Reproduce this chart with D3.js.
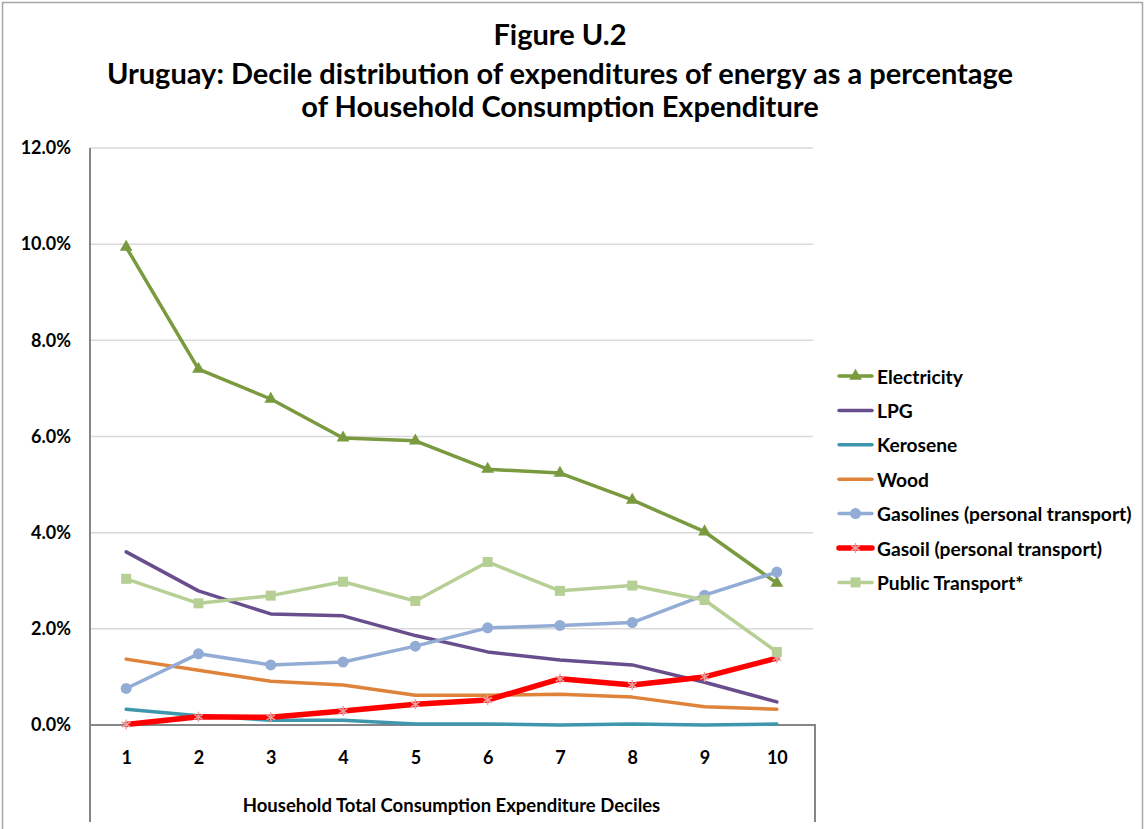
<!DOCTYPE html>
<html><head><meta charset="utf-8">
<script src="https://cdn.jsdelivr.net/npm/d3@7"></script>
<style>
html,body{margin:0;padding:0;background:#fff;}
svg{display:block;}
text{font-family:Lato,"Open Sans",sans-serif;font-weight:bold;fill:#000;}
</style></head>
<body><svg id="c" width="1145" height="829"></svg>
<script>
const deciles = [1,2,3,4,5,6,7,8,9,10];
const yTicks = [0,2,4,6,8,10,12];
const titleLines = ["Figure U.2","Uruguay: Decile distribution of expenditures of energy as a percentage","of Household Consumption Expenditure"];
const xTitle = "Household Total Consumption Expenditure Deciles";
const seriesNames = ["Electricity","LPG","Kerosene","Wood","Gasolines (personal transport)","Gasoil (personal transport)","Public Transport*"];
const electricity = [9.94,7.40,6.78,5.97,5.91,5.32,5.24,4.68,4.02,2.95];
const lpg = [3.60,2.79,2.31,2.27,1.86,1.52,1.35,1.25,0.89,0.48];
const kerosene = [0.33,0.19,0.10,0.10,0.02,0.02,0.00,0.02,0.00,0.02];
const wood = [1.37,1.14,0.91,0.83,0.62,0.62,0.64,0.58,0.38,0.33];
const gasolines = [0.76,1.48,1.25,1.31,1.64,2.02,2.07,2.13,2.70,3.18];
const gasoil = [0.01,0.17,0.16,0.29,0.43,0.52,0.96,0.83,1.00,1.39];
const publicTransport = [3.04,2.53,2.69,2.98,2.58,3.39,2.79,2.90,2.60,1.52];
const seriesValues = [electricity,lpg,kerosene,wood,gasolines,gasoil,publicTransport];

const styles = [
 {color:"#799A3E", width:3.5, marker:"triangle", mfill:"#799A3E"},
 {color:"#684E8D", width:3.5, marker:null},
 {color:"#3F97AD", width:3.5, marker:null},
 {color:"#DF833A", width:3.5, marker:null},
 {color:"#93ACD5", width:3.5, marker:"circle", mfill:"#93ACD5"},
 {color:"#FF0000", width:5.5, marker:"star", mfill:"#E9A0A0"},
 {color:"#B6CF94", width:3.5, marker:"square", mfill:"#B6CF94"}
];

const svg = d3.select("#c");
// outer border
svg.append("rect").attr("x",2.5).attr("y",2.5).attr("width",1140).attr("height",840)
  .attr("fill","none").attr("stroke","#A6A6A6").attr("stroke-width",1.5);

// title
const tY = [33,72,105];
titleLines.forEach((t,i)=>{
  svg.append("text").attr("x",560).attr("y",tY[i]).attr("text-anchor","middle")
    .attr("dominant-baseline","central").style("font-size","29px").text(t);
});

const pL=90, pR=813, pT=148, pB=725;
const x = d3.scalePoint().domain(deciles).range([pL,pR]).padding(0.5);
const y = d3.scaleLinear().domain([0,12]).range([pB,pT]);

// gridlines
svg.append("g").selectAll("line").data(yTicks.filter(d=>d>0)).join("line")
  .attr("x1",pL).attr("x2",pR).attr("y1",d=>y(d)).attr("y2",d=>y(d))
  .attr("stroke","#D9D9D9").attr("stroke-width",1.5);

// y axis
const yAxis = svg.append("g").attr("transform",`translate(${pL},0)`)
  .call(d3.axisLeft(y).tickValues(yTicks).tickFormat(d=>d.toFixed(1)+"%").tickSize(0).tickPadding(19));
yAxis.select(".domain").remove();
yAxis.selectAll("text").style("font-size","18px");
svg.append("line").attr("x1",pL).attr("x2",pL).attr("y1",pT).attr("y2",822)
  .attr("stroke","#868686").attr("stroke-width",2);

// x axis
const xAxis = svg.append("g").attr("transform",`translate(0,${pB})`)
  .call(d3.axisBottom(x).tickSize(0).tickPadding(26));
xAxis.select(".domain").remove();
xAxis.selectAll("text").style("font-size","18px");
svg.append("path").attr("d",`M${pL},${pB}H815V822`).attr("fill","none")
  .attr("stroke","#868686").attr("stroke-width",2);

svg.append("text").attr("x",(pL+pR)/2).attr("y",805).attr("text-anchor","middle")
  .attr("dominant-baseline","central").style("font-size","18.5px").text(xTitle);

function drawMarker(g, type, cx, cy, st){
  if(!type) return;
  if(type==="triangle"){
    g.append("path").attr("d",d3.symbol(d3.symbolTriangle,70)()).attr("transform",`translate(${cx},${cy})`).attr("fill",st.mfill);
  } else if(type==="circle"){
    g.append("circle").attr("cx",cx).attr("cy",cy).attr("r",5.5).attr("fill",st.mfill);
  } else if(type==="square"){
    g.append("rect").attr("x",cx-5).attr("y",cy-5).attr("width",10).attr("height",10).attr("fill",st.mfill);
  } else if(type==="star"){
    g.append("path").attr("d",d3.symbol(d3.symbolAsterisk,70)()).attr("transform",`translate(${cx},${cy})`)
      .attr("fill","none").attr("stroke",st.mfill).attr("stroke-width",1.5);
  }
}

const line = d3.line().x((d,i)=>x(deciles[i])).y(d=>y(d));
seriesValues.forEach((vals,si)=>{
  const st = styles[si];
  const g = svg.append("g");
  g.append("path").attr("d",line(vals)).attr("fill","none").attr("stroke",st.color)
    .attr("stroke-width",st.width).attr("stroke-linejoin","round").attr("stroke-linecap","round");
  vals.forEach((v,i)=>drawMarker(g, st.marker, x(deciles[i]), y(v), st));
});

// legend
const lg = svg.append("g");
seriesNames.forEach((n,i)=>{
  const st = styles[i];
  const ly = 376 + i*34.4;
  lg.append("line").attr("x1",839).attr("x2",872).attr("y1",ly).attr("y2",ly)
    .attr("stroke",st.color).attr("stroke-width",st.width).attr("stroke-linecap","round");
  drawMarker(lg, st.marker, 855.5, ly, st);
  lg.append("text").attr("x",877).attr("y",ly).attr("dominant-baseline","central")
    .style("font-size","19.2px").text(n);
});
</script></body></html>
